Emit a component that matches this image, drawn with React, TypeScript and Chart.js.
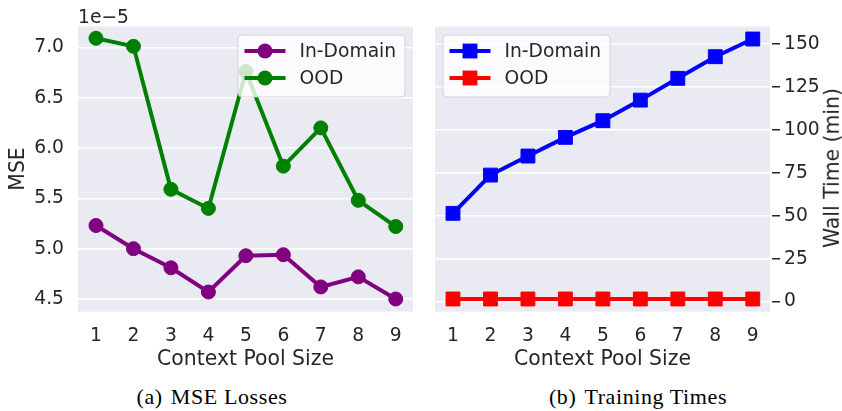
import React, { useEffect, useRef } from 'react';
import { Chart, registerables } from 'chart.js';

Chart.register(...registerables);

// ---------------- data ----------------
const poolSizes = [1, 2, 3, 4, 5, 6, 7, 8, 9];
const seriesLabels = ['In-Domain', 'OOD'];
// MSE values, in units of 1e-5
const mseInDomain = [5.23, 5.0, 4.81, 4.57, 4.93, 4.94, 4.62, 4.72, 4.5];
const mseOOD = [7.09, 7.01, 5.59, 5.4, 6.76, 5.82, 6.2, 5.48, 5.22];
// wall time in minutes
const timeInDomain = [51.4, 73.7, 84.8, 95.7, 105.4, 117.4, 130.1, 142.7, 153.0];
const timeOOD = [1.5, 1.5, 1.5, 1.5, 1.5, 1.5, 1.5, 1.5, 1.5];
const mseTicks = [4.5, 5.0, 5.5, 6.0, 6.5, 7.0];
const timeTicks = [0, 25, 50, 75, 100, 125, 150];

const TEXT = '#262626';
const FONT = '"DejaVu Sans", sans-serif';
const TICK_SIZE = 18.7;
const LABEL_SIZE = 20.4;

Chart.defaults.font.family = FONT;
Chart.defaults.color = TEXT;

const bgPlugin = {
  id: 'areaBg',
  beforeDraw(chart: any) {
    const { ctx, chartArea } = chart;
    ctx.save();
    ctx.fillStyle = '#EAEAF2';
    ctx.fillRect(chartArea.left, chartArea.top, chartArea.right - chartArea.left, chartArea.bottom - chartArea.top);
    ctx.restore();
  },
};

const legendPlugin = {
  id: 'lineLegend',
  afterDatasetsDraw(chart: any, _args: any, opts: any) {
    const { ctx, chartArea } = chart;
    const boxW = 167;
    const boxH = 62;
    const x0 = opts.side === 'right' ? chartArea.right - 8 - boxW : chartArea.left + 8;
    const y0 = chartArea.top + 8.5;
    ctx.save();
    ctx.beginPath();
    ctx.roundRect(x0, y0, boxW, boxH, 4);
    ctx.fillStyle = 'rgba(255,255,255,0.8)';
    ctx.fill();
    ctx.strokeStyle = 'rgba(204,204,204,0.8)';
    ctx.lineWidth = 1;
    ctx.stroke();
    chart.data.datasets.forEach((ds: any, i: number) => {
      const cy = y0 + 16 + i * 27;
      const lx = x0 + 6.5;
      ctx.strokeStyle = ds.borderColor;
      ctx.lineWidth = ds.borderWidth;
      ctx.beginPath();
      ctx.moveTo(lx, cy);
      ctx.lineTo(lx + 41, cy);
      ctx.stroke();
      const mx = lx + 20.5;
      ctx.fillStyle = ds.borderColor;
      ctx.beginPath();
      if (ds.pointStyle === 'rect') {
        const h = ds.pointRadius * Math.SQRT1_2 + 0.5;
        ctx.rect(mx - h, cy - h, 2 * h, 2 * h);
      } else {
        ctx.arc(mx, cy, ds.pointRadius + 0.5, 0, Math.PI * 2);
      }
      ctx.fill();
      ctx.fillStyle = TEXT;
      ctx.font = `${TICK_SIZE}px ${FONT}`;
      ctx.textBaseline = 'middle';
      ctx.textAlign = 'left';
      ctx.fillText(ds.label, x0 + 61.5, cy + 1);
    });
    ctx.restore();
  },
};

function xScale() {
  return {
    type: 'linear',
    min: 0.52,
    max: 9.46,
    afterBuildTicks: (s: any) => {
      s.ticks = poolSizes.map((v) => ({ value: v }));
    },
    afterFit: (s: any) => {
      s.height = 68.5;
    },
    grid: { display: false },
    border: { display: false },
    ticks: { padding: 5, font: { size: TICK_SIZE }, color: TEXT, maxRotation: 0, autoSkip: false },
    title: {
      display: true,
      text: 'Context Pool Size',
      font: { size: LABEL_SIZE },
      color: TEXT,
      padding: { top: 0, bottom: 8 },
    },
  };
}

function lineDs(label: string, xs: number[], ys: number[], color: string, style: string, r: number) {
  return {
    label,
    data: xs.map((x, i) => ({ x, y: ys[i] })),
    borderColor: color,
    backgroundColor: color,
    pointBackgroundColor: color,
    pointBorderColor: color,
    pointBorderWidth: 1,
    pointStyle: style,
    pointRadius: r,
    borderWidth: 4,
    tension: 0,
  };
}

function mseConfig(): any {
  return {
    type: 'line',
    data: {
      datasets: [
        lineDs(seriesLabels[0], poolSizes, mseInDomain, '#800080', 'circle', 7),
        lineDs(seriesLabels[1], poolSizes, mseOOD, '#008000', 'circle', 7),
      ],
    },
    options: {
      animation: false,
      responsive: false,
      layout: { padding: { top: 26.5, left: 0, right: 8, bottom: 0 } },
      plugins: { legend: { display: false }, tooltip: { enabled: false }, lineLegend: { side: 'right' } },
      scales: {
        x: xScale(),
        y: {
          type: 'linear',
          min: 4.376,
          max: 7.207,
          afterBuildTicks: (s: any) => {
            s.ticks = mseTicks.map((v) => ({ value: v }));
          },
          afterFit: (s: any) => {
            s.width = 78;
          },
          grid: { color: '#ffffff', lineWidth: 1.5, drawTicks: false },
          border: { display: false },
          ticks: {
            padding: 14,
            font: { size: TICK_SIZE },
            color: TEXT,
            callback: (v: number) => v.toFixed(1),
          },
          title: { display: true, text: 'MSE', font: { size: LABEL_SIZE }, color: TEXT, padding: { top: 6, bottom: 0 } },
        },
      },
    },
    plugins: [bgPlugin, legendPlugin],
  };
}

function timeConfig(): any {
  return {
    type: 'line',
    data: {
      datasets: [
        lineDs(seriesLabels[0], poolSizes, timeInDomain, '#0000ff', 'rect', 9.8),
        lineDs(seriesLabels[1], poolSizes, timeOOD, '#ff0000', 'rect', 9.8),
      ],
    },
    options: {
      animation: false,
      responsive: false,
      layout: { padding: { top: 26.5, left: 14, right: 0, bottom: 0 } },
      plugins: { legend: { display: false }, tooltip: { enabled: false }, lineLegend: { side: 'left' } },
      scales: {
        x: xScale(),
        y: {
          type: 'linear',
          position: 'right',
          min: -5.8,
          max: 160.3,
          afterBuildTicks: (s: any) => {
            s.ticks = timeTicks.map((v) => ({ value: v }));
          },
          afterFit: (s: any) => {
            s.width = 72;
          },
          grid: {
            color: '#ffffff',
            lineWidth: 1.5,
            drawTicks: true,
            tickLength: 10,
            tickColor: TEXT,
            tickWidth: 1.4,
            tickBorderDash: [0, 2, 8, 100],
          },
          border: { display: false },
          ticks: { padding: 4, font: { size: TICK_SIZE }, color: TEXT },
          title: { display: false },
        },
      },
    },
    plugins: [bgPlugin, legendPlugin],
  };
}

function ChartCanvas({ make, left }: { make: () => any; left: number }) {
  const ref = useRef<HTMLCanvasElement | null>(null);
  useEffect(() => {
    if (!ref.current) return;
    const chart = new Chart(ref.current, make());
    return () => chart.destroy();
  }, []);
  return (
    <canvas
      ref={ref}
      width={421}
      height={380}
      style={{ position: 'absolute', left, top: 0, width: 421, height: 380 }}
    />
  );
}

const caption: React.CSSProperties = {
  position: 'absolute',
  top: 384,
  fontFamily: '"Liberation Serif", serif',
  fontSize: 22,
  letterSpacing: 0.6,
  lineHeight: '26px',
  color: '#000',
  transform: 'translateX(-50%)',
  whiteSpace: 'nowrap',
};

export default function App() {
  return (
    <div style={{ position: 'absolute', left: 0, top: 0, width: 842, height: 411, background: '#fff', overflow: 'hidden' }}>
      <ChartCanvas make={mseConfig} left={0} />
      <ChartCanvas make={timeConfig} left={421} />
      <div
        style={{
          position: 'absolute',
          left: 78,
          top: 8,
          fontFamily: FONT,
          fontSize: TICK_SIZE,
          lineHeight: 1,
          color: TEXT,
          whiteSpace: 'nowrap',
        }}
      >
        1e−5
      </div>
      <div
        style={{
          position: 'absolute',
          left: 832,
          top: 168,
          fontFamily: FONT,
          fontSize: LABEL_SIZE,
          lineHeight: 1,
          color: TEXT,
          whiteSpace: 'nowrap',
          transform: 'translate(-50%, -50%) rotate(-90deg)',
        }}
      >
        Wall Time (min)
      </div>
      <div style={{ ...caption, left: 212 }}>
        (a)<span style={{ marginLeft: 8 }}>MSE Losses</span>
      </div>
      <div style={{ ...caption, left: 638 }}>
        (b)<span style={{ marginLeft: 8 }}>Training Times</span>
      </div>
    </div>
  );
}
